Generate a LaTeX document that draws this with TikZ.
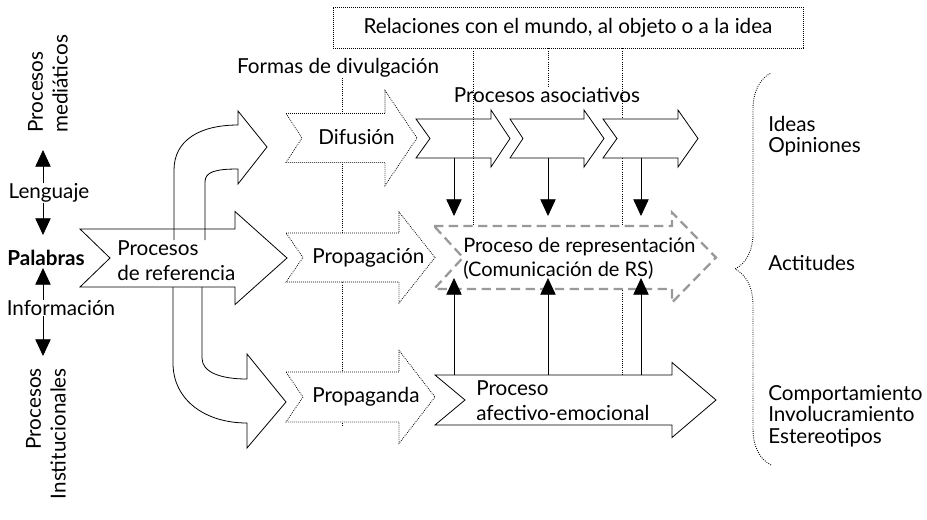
\documentclass[tikz,border=0pt]{standalone}
\usepackage{fontspec}
\setmainfont{Lato}
\usetikzlibrary{arrows.meta, decorations.pathreplacing}

\newcommand{\tam}{\fontsize{15.5}{18.5}\selectfont}
% flecha con muesca: estilo, x cola, x muesca, x cabeza, x punta, y centro, medio cuerpo, media cabeza
\newcommand{\flecha}[8]{%
  \draw[#1] (#2,#6-#7) -- (#4,#6-#7) -- (#4,#6-#8) -- (#5,#6) -- (#4,#6+#8)
    -- (#4,#6+#7) -- (#2,#6+#7) -- (#3,#6) -- cycle;}

\tikzset{
  linea/.style={draw, line width=0.6pt, line join=miter},
  contorno/.style={linea, fill=white},
  punteado/.style={draw, line width=0.6pt, dash pattern=on 0.6pt off 0.9pt, fill=white},
  rayas/.style={draw=black!40, line width=1.7pt, dash pattern=on 7pt off 4pt, fill=white},
  punta/.style={line width=0.6pt, -{Triangle[length=12.5pt, width=11.5pt]}},
  guia/.style={line width=0.65pt, dash pattern=on 0.65pt off 1pt},
  texto/.style={font=\tam, inner sep=0pt, align=left},
  caja/.style={texto, punteado, minimum width=352.5pt, minimum height=30.75pt},
}

\begin{document}
\begin{tikzpicture}[x=0.75pt, y=-0.75pt]
\useasboundingbox (0,0) rectangle (927,519);

% textos de arriba y lineas guia
\node[texto] (fd) at (338,68) {Formas de divulgación};
\node[caja] (rel) at (568,27.5) {Relaciones con el mundo, al objeto o a la idea};
\node[texto] (pa) at (547,95) {Procesos asociativos};
\coordinate (rsN) at (0,226);
\coordinate (rsS) at (0,289);
\coordinate (asS) at (0,158);
\coordinate (afN) at (0,375);
\draw[guia] (342,0 |- fd.south) -- (342,427);
\draw[guia] (622,0 |- rel.south) -- (622,0 |- afN);
\draw[guia] (548,0 |- rel.south) -- (548,0 |- pa.north);

% flechas curvas
\draw[contorno] (174,240) -- (174,170) .. controls (174,140) and (200,125) .. (238,125)
  -- (238,111) -- (267,147) -- (238,184) -- (238,169)
  .. controls (215,169) and (205,172) .. (205,182) -- (205,240);
\draw[contorno] (173,287) -- (173,363) .. controls (173,400) and (205,423) .. (247,423)
  -- (247,448) -- (286,402) -- (247,354) -- (247,379)
  .. controls (220,379) and (202,372) .. (202,358) -- (202,287);
\flecha{linea}{80}{110}{235}{287}{258}{29}{46.5}

% formas de divulgacion
\flecha{punteado}{286}{302}{385}{417}{138}{24.5}{47.5}
\flecha{punteado}{286}{303}{399}{435}{257.5}{24.5}{45.5}
\flecha{punteado}{286}{303}{399}{435}{397}{25}{46.5}

% procesos asociativos
\flecha{contorno}{416}{430}{491}{510}{138.5}{19.5}{28.5}
\flecha{contorno}{510}{523}{584}{604}{138.5}{19.5}{28.5}
\flecha{contorno}{603}{617}{678}{698}{138.5}{19.5}{28.5}
\draw[guia] (473,0 |- rel.south) -- (473,0 |- rsN);

\flecha{rayas}{434}{463}{672}{716}{257.5}{31.5}{45}
\flecha{contorno}{435}{465}{672}{716}{400}{25}{37.5}

\foreach \x in {454,548,641} {
  \draw[punta, shorten >=7.5pt] (\x,0 |- asS) -- (\x,0 |- rsN);
  \draw[punta, shorten >=-8.25pt] (\x,0 |- afN) -- (\x,0 |- rsS);
}

% textos de las flechas
\node[texto, anchor=west, font=\fontsize{15.5}{18.75}\selectfont] (ref) at (117,260.5) {Procesos\\de referencia};
\node[texto, anchor=west] (dif) at (318,137) {Difusión};
\node[texto, anchor=west] (prop) at (312,258) {Propagación};
\node[texto, anchor=west] (propg) at (312,397) {Propaganda};
\node[texto, anchor=west, font=\fontsize{15}{18}\selectfont] (rs) at (463,259) {Proceso de representación\\(Comunicación de RS)};
\node[texto, anchor=west] (afec) at (476,400.5) {Proceso\\afectivo-emocional};

% lado izquierdo
\node[texto] (leng) at (49,193) {Lenguaje};
\node[texto, font=\tam\bfseries] (pal) at (46,258) {Palabras};
\node[texto] (info) at (61,308) {Información};
\node[texto, rotate=90, anchor=west] (medi) at (48,133) {Procesos\\mediáticos};
\node[texto, rotate=90, anchor=east, align=right] (inst) at (46,368) {Procesos\\Institucionales};
\draw[punta] (43,0 |- leng.north) -- ([yshift=-12.75pt]43,0 |- medi.west);
\draw[punta] (43,0 |- leng.south) -- (43,235);
\draw[punta] (43,0 |- info.north) -- (43,268);
\draw[punta] (43,0 |- info.south) -- ([yshift=9pt]43,0 |- inst.east);

% lado derecho
\draw[guia, decorate, decoration={brace, amplitude=27pt}] (771,465) -- (771,73);
\node[texto, anchor=west, font=\fontsize{15.5}{15.5}\selectfont] (ideas) at (768,136) {Ideas\\Opiniones};
\node[texto, anchor=west] (act) at (768,263) {Actitudes};
\node[texto, anchor=west, font=\fontsize{15.5}{16}\selectfont] (comp) at (768,416) {Comportamiento\\Involucramiento\\Estereotipos};
\end{tikzpicture}
\end{document}
